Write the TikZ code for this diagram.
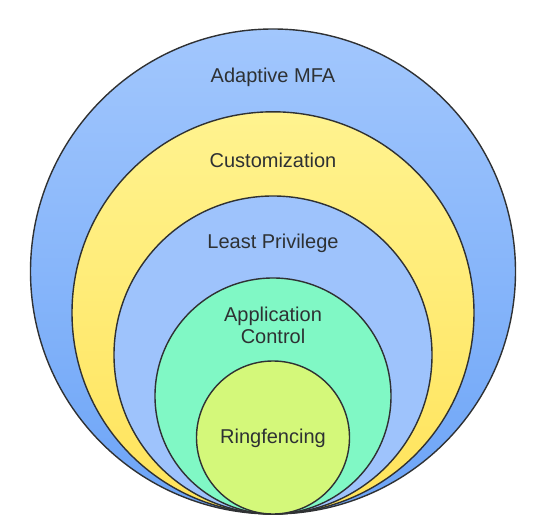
\documentclass[tikz,border=0pt]{standalone}
\usepackage{fontspec}
\setmainfont{Liberation Sans}
\definecolor{lineC}{HTML}{2F3133}
\definecolor{txtC}{HTML}{2E3133}
\definecolor{blueTop}{HTML}{A2C7FD}
\definecolor{blueBot}{HTML}{6CA4F7}
\definecolor{yelTop}{HTML}{FFF38F}
\definecolor{yelBot}{HTML}{FFE35A}
\definecolor{lblue}{HTML}{9EC3FC}
\definecolor{mint}{HTML}{80F8C5}
\definecolor{lime}{HTML}{D4F87A}
\tikzset{
  ring/.style={circle, draw=lineC, line width=1.4pt, inner sep=0pt, outer sep=0pt},
  lbl/.style={text=txtC, font=\fontsize{20pt}{22pt}\selectfont, align=center, inner sep=0pt}
}
\begin{document}
\begin{tikzpicture}[x=1pt,y=-1pt]
\useasboundingbox (0,0) rectangle (539,524);
\node[ring, minimum size=485pt, top color=blueTop, bottom color=blueBot] (c1) at (273,271.5) {};
\node[ring, minimum size=402pt, top color=yelTop, bottom color=yelBot] (c2) at (273,312.8) {};
\node[ring, minimum size=318pt, fill=lblue] (c3) at (273,355) {};
\node[ring, minimum size=236pt, fill=mint] (c4) at (273,396) {};
\node[ring, minimum size=153pt, fill=lime] (c5) at (273,437.5) {};
\node[lbl] (t1) at (273,77.5) {Adaptive MFA};
\node[lbl] (t2) at (273,160) {Customization};
\node[lbl] (t3) at (273,243) {Least Privilege};
\node[lbl, text width=160pt] (t4) at (273,325.5) {Application\\Control};
\node[lbl] (t5) at (273,438) {Ringfencing};
\end{tikzpicture}
\end{document}
